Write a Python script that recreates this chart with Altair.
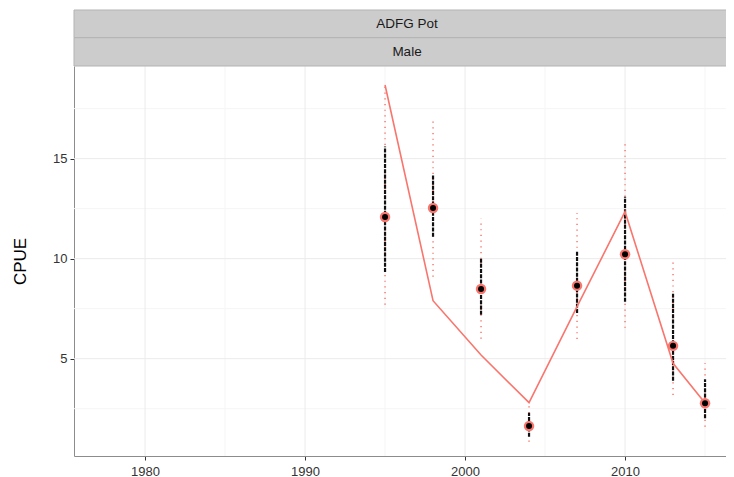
import altair as alt
import pandas as pd

years = [1995, 1998, 2001, 2004, 2007, 2010, 2013, 2015]
obs = [12.08, 12.53, 8.48, 1.63, 8.65, 10.22, 5.64, 2.77]
pred = [18.68, 7.9, 5.18, 2.8, 7.6, 12.35, 4.77, 2.78]
inner_lo = [9.33, 11.1, 7.2, 1.1, 7.28, 7.85, 3.9, 2.02]
inner_hi = [15.6, 14.18, 10.0, 2.3, 10.35, 13.1, 8.24, 3.97]
outer_lo = [7.7, 9.1, 6.0, 0.85, 5.98, 6.54, 3.19, 1.6]
outer_hi = [18.6, 17.0, 12.0, 2.8, 12.28, 15.94, 9.85, 4.77]

major_x = [1980, 1990, 2000, 2010]
minor_x = [1985, 1995, 2005, 2015]
major_y = [5, 10, 15]
minor_y = [2.5, 7.5, 12.5, 17.5]

strip_labels = ["ADFG Pot", "Male"]

W, H = 652, 390
RED = "#F8766D"
FONT = "Liberation Sans"

df = pd.DataFrame({
    "year": years, "obs": obs, "pred": pred,
    "ilo": inner_lo, "ihi": inner_hi, "olo": outer_lo, "ohi": outer_hi,
})

xs = alt.Scale(domain=[1975.56, 2016.31], nice=False, zero=False)
ys = alt.Scale(domain=[0.135, 19.63], nice=False, zero=False)

XAX = alt.Axis(values=major_x, format="d", grid=False, domainColor="#8c8c8c",
               tickColor="#333333", tickSize=4, labelPadding=5, labelFontSize=13,
               labelColor="#333333", labelFont=FONT, title=None)
YAX = alt.Axis(values=major_y, grid=False, domainColor="#8c8c8c",
               tickColor="#333333", tickSize=4, labelPadding=3,
               labelFontSize=13, labelColor="#333333", labelFont=FONT,
               title="CPUE", titleFont=FONT, titleFontSize=17, titleFontWeight="normal",
               titleColor="#000000", titlePadding=23)


def grid_rules(vals, axis, color):
    d = pd.DataFrame({"v": vals})
    if axis == "x":
        return alt.Chart(d).mark_rule(color=color, strokeWidth=1).encode(
            x=alt.X("v:Q", scale=xs, axis=XAX))
    return alt.Chart(d).mark_rule(color=color, strokeWidth=1).encode(
        y=alt.Y("v:Q", scale=ys, axis=YAX))


gminx = grid_rules(minor_x, "x", "#f5f5f5")
gminy = grid_rules(minor_y, "y", "#f5f5f5")
gmajx = grid_rules(major_x, "x", "#ebebeb")
gmajy = grid_rules(major_y, "y", "#ebebeb")

base = alt.Chart(df)
X = alt.X("year:Q", scale=xs, axis=XAX)

outer = base.mark_rule(color=RED, strokeWidth=1.5, strokeDash=[1.2, 4.5]).encode(
    x=X, y=alt.Y("olo:Q", scale=ys, axis=YAX), y2="ohi:Q")

inner = base.mark_rule(color="#111111", strokeWidth=2.2, strokeDash=[4, 1.2]).encode(
    x=X, y=alt.Y("ilo:Q", scale=ys, axis=YAX), y2="ihi:Q")

line = base.mark_line(color=RED, strokeWidth=1.6).encode(
    x=X, y=alt.Y("pred:Q", scale=ys, axis=YAX))

pts_out = base.mark_point(filled=True, color=RED, size=110, opacity=1).encode(
    x=X, y=alt.Y("obs:Q", scale=ys, axis=YAX))
pts_in = base.mark_point(filled=True, color="#000000", size=36, opacity=1).encode(
    x=X, y=alt.Y("obs:Q", scale=ys, axis=YAX))

dummy = pd.DataFrame({"a": [0]})
strip1 = alt.Chart(dummy).mark_rect(fill="#cccccc", stroke="#b3b3b3", strokeWidth=1).encode(
    x=alt.value(0), x2=alt.value(W + 10), y=alt.value(-56), y2=alt.value(-28.3))
strip2 = alt.Chart(dummy).mark_rect(fill="#cccccc", stroke="#b3b3b3", strokeWidth=1).encode(
    x=alt.value(0), x2=alt.value(W + 10), y=alt.value(-28.3), y2=alt.value(0))
t1 = alt.Chart(pd.DataFrame({"t": [strip_labels[0]]})).mark_text(
    font=FONT, fontSize=13.5, color="#1a1a1a").encode(
    x=alt.value(333), y=alt.value(-42), text="t:N")
t2 = alt.Chart(pd.DataFrame({"t": [strip_labels[1]]})).mark_text(
    font=FONT, fontSize=13.5, color="#1a1a1a").encode(
    x=alt.value(333), y=alt.value(-14), text="t:N")

chart = alt.layer(
    gminx, gminy, gmajx, gmajy, outer, inner, line, pts_out, pts_in,
    strip1, strip2, t1, t2,
).properties(
    width=W, height=H,
    autosize=alt.AutoSizeParams(type="none"),
    padding={"left": 66, "top": 58, "right": 0, "bottom": 21},
    background="white",
).configure_view(stroke=None)

chart.save("out.html", embed_options={"renderer": "svg", "actions": False})
